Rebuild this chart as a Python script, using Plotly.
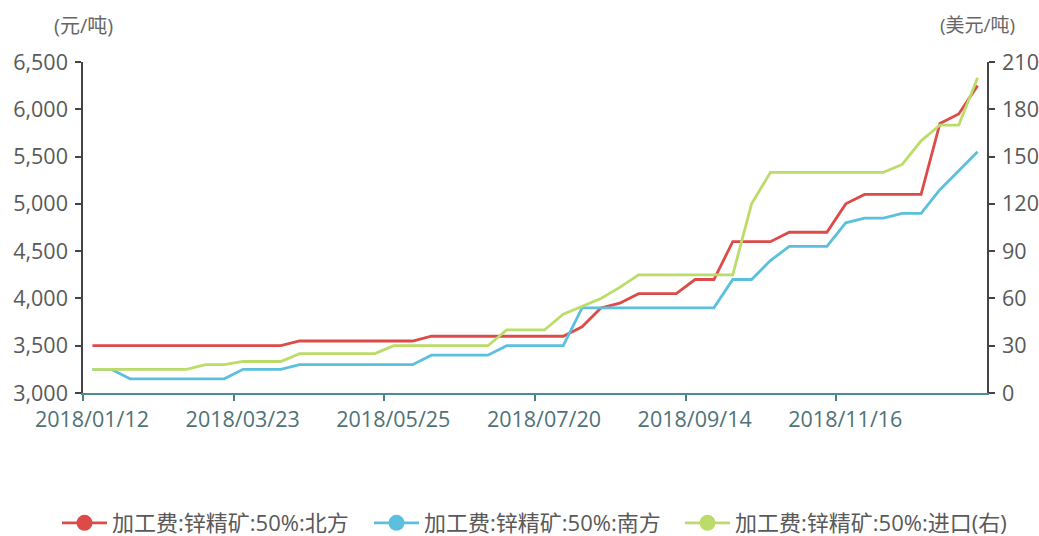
import plotly.graph_objects as go

dates = [
    "2018/01/12", "2018/01/19", "2018/01/26", "2018/02/02", "2018/02/09", "2018/03/02",
    "2018/03/09", "2018/03/16", "2018/03/23", "2018/03/30", "2018/04/13", "2018/04/20",
    "2018/04/27", "2018/05/04", "2018/05/11", "2018/05/18", "2018/05/25", "2018/06/01",
    "2018/06/08", "2018/06/15", "2018/06/22", "2018/06/29", "2018/07/06", "2018/07/13",
    "2018/07/20", "2018/07/27", "2018/08/03", "2018/08/10", "2018/08/17", "2018/08/24",
    "2018/08/31", "2018/09/07", "2018/09/14", "2018/09/21", "2018/09/28", "2018/10/12",
    "2018/10/19", "2018/10/26", "2018/11/02", "2018/11/09", "2018/11/16", "2018/11/23",
    "2018/11/30", "2018/12/07", "2018/12/14", "2018/12/21", "2018/12/28", "2019/01/04",
]

north = [3500] * 11 + [3550] * 7 + [3600] * 8 + [3700, 3900, 3950] + [4050] * 3 + [4200] * 2 \
    + [4600] * 3 + [4700] * 3 + [5000] + [5100] * 4 + [5850, 5950, 6250]
south = [3250] * 2 + [3150] * 6 + [3250] * 3 + [3300] * 7 + [3400] * 4 + [3500] * 4 + [3900] * 8 \
    + [4200] * 2 + [4400] + [4550] * 3 + [4800] + [4850] * 2 + [4900] * 2 + [5150, 5350, 5550]
imported = [15] * 6 + [18] * 2 + [20] * 3 + [25] * 5 + [30] * 6 + [40] * 3 + [50, 55, 60, 67] \
    + [75] * 6 + [120] + [140] * 7 + [145, 160, 170, 170, 200]

names = ["加工费:锌精矿:50%:北方", "加工费:锌精矿:50%:南方", "加工费:锌精矿:50%:进口(右)"]
colors = ["#dc4b48", "#5bc0de", "#bcdc6a"]
tick_every = 8

idx = list(range(len(dates)))
FONT = "Open Sans, Noto Sans CJK SC, sans-serif"
TICK_SIZE = 21.5
W, H = 1039, 536

fig = go.Figure()
series = [(north, "y"), (south, "y"), (imported, "y2")]
legend_ids = ["legend", "legend2", "legend3"]
for (vals, ax), name, col, lg in zip(series, names, colors, legend_ids):
    fig.add_trace(go.Scatter(
        x=idx, y=vals, yaxis=ax, mode="lines", name=name,
        line=dict(color=col, width=2.8), customdata=dates,
        hovertemplate="%{customdata}: %{y}<extra></extra>", showlegend=False,
    ))
    fig.add_trace(go.Scatter(
        x=[None], y=[None], yaxis=ax, mode="lines+markers", name=name, legend=lg,
        line=dict(color=col, width=2.8), marker=dict(color=col, size=17),
    ))

tickpos = [i - 0.5 for i in idx[::tick_every]]
ticktext = dates[::tick_every]


def legend_at(left_px):
    return dict(
        orientation="h", xref="container", yref="container",
        x=left_px / W, xanchor="left", y=(H - 523) / H, yanchor="middle",
        font=dict(size=22, color="#595959"), itemwidth=45, bgcolor="rgba(0,0,0,0)",
    )


fig.update_layout(
    width=W, height=H,
    margin=dict(l=83, r=52, t=62, b=143),
    paper_bgcolor="white", plot_bgcolor="white",
    font=dict(family=FONT, size=19, color="#595959"),
    xaxis=dict(
        range=[-0.5, len(dates) - 0.5], tickmode="array", tickvals=tickpos, ticktext=ticktext,
        ticklabelshift=9, ticks="outside", ticklen=6, tickcolor="#4a7f86", tickwidth=1.5,
        showline=True, linecolor="#4a8f98", linewidth=1.5, showgrid=False, zeroline=False,
        tickfont=dict(size=TICK_SIZE, color="#4e7276"), automargin=False,
    ),
    yaxis=dict(
        range=[3000, 6500], dtick=500, tickformat=",", ticks="outside", ticklen=6,
        tickcolor="#444", tickwidth=1.5, showline=True, linecolor="#444", linewidth=1.5,
        showgrid=False, zeroline=False, tickfont=dict(size=TICK_SIZE, color="#595959"),
        ticklabelstandoff=3, automargin=False,
    ),
    yaxis2=dict(
        overlaying="y", side="right", range=[0, 210], dtick=30, ticks="outside", ticklen=6,
        tickcolor="#444", tickwidth=1.5, showline=True, linecolor="#444", linewidth=1.5,
        showgrid=False, zeroline=False, tickfont=dict(size=TICK_SIZE, color="#595959"),
        ticklabelstandoff=3, automargin=False,
    ),
    legend=legend_at(57),
    legend2=legend_at(369),
    legend3=legend_at(680),
    annotations=[
        dict(text="(元/吨)", xref="paper", yref="paper", x=0.0, xshift=0, y=1.0, yshift=37,
             xanchor="center", yanchor="middle", showarrow=False, font=dict(size=20, color="#666")),
        dict(text="(美元/吨)", xref="paper", yref="paper", x=1.0, xshift=-10, y=1.0, yshift=37,
             xanchor="center", yanchor="middle", showarrow=False, font=dict(size=19, color="#666")),
    ],
)

fig.write_html("out.html", config={"displayModeBar": False},
               post_script="document.body.style.margin='0';")
